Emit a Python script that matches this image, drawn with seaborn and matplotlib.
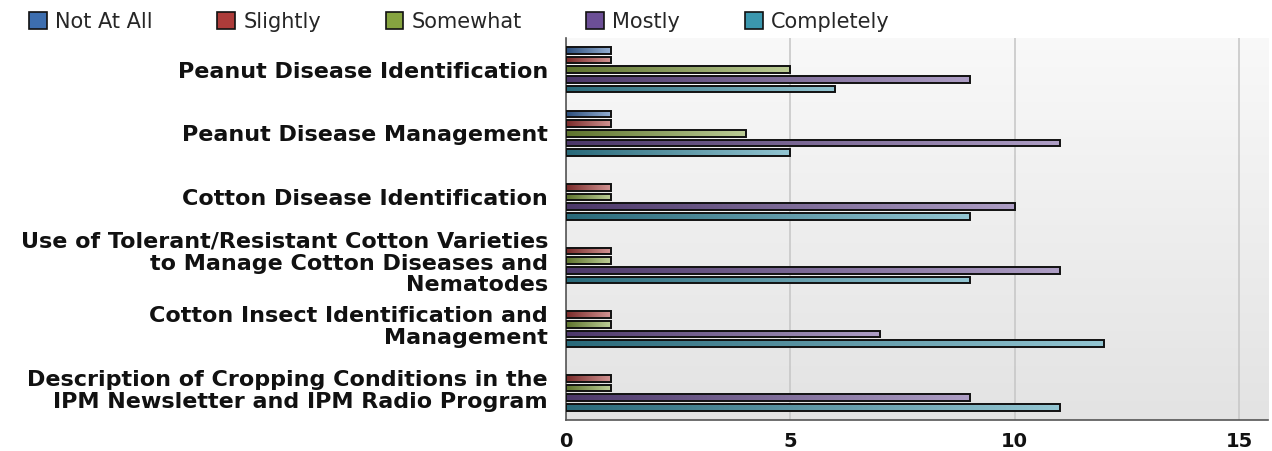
import matplotlib
matplotlib.use("Agg")
import matplotlib.pyplot as plt
import matplotlib.colors as mcolors
import numpy as np
import pandas as pd
import seaborn as sns
from matplotlib.patches import Patch

categories = [
    "Peanut Disease Identification",
    "Peanut Disease Management",
    "Cotton Disease Identification",
    "Use of Tolerant/Resistant Cotton Varieties\nto Manage Cotton Diseases and\nNematodes",
    "Cotton Insect Identification and\nManagement",
    "Description of Cropping Conditions in the\nIPM Newsletter and IPM Radio Program",
]
levels = ["Not At All", "Slightly", "Somewhat", "Mostly", "Completely"]
not_at_all = [1, 1, 0, 0, 0, 0]
slightly = [1, 1, 1, 1, 1, 1]
somewhat = [5, 4, 1, 1, 1, 1]
mostly = [9, 11, 10, 11, 7, 9]
completely = [6, 5, 9, 9, 12, 11]
colors = ["#3d6eaf", "#ad3c3a", "#86a440", "#6c4f96", "#3b97ae"]

series = [not_at_all, slightly, somewhat, mostly, completely]
rows = []
for lvl, vals in zip(levels, series):
    for cat, v in zip(categories, vals):
        rows.append({"category": cat, "level": lvl, "value": v})
df = pd.DataFrame(rows)

sns.set_style("white")
plt.rcParams["font.family"] = ["DejaVu Sans"]

fig = plt.figure(figsize=(12.72, 4.51), dpi=100)
ax = fig.add_axes([0.445, 0.069, 0.552, 0.847])
xmax = 15.65

# background vertical gradient
grad = np.linspace(0.975, 0.89, 256).reshape(-1, 1)
ax.imshow(np.dstack([grad, grad, grad]), extent=[0, xmax, 5.5, -0.5],
          aspect="auto", zorder=0, interpolation="bilinear")

sns.barplot(data=df, y="category", x="value", hue="level", hue_order=levels,
            order=categories, palette=colors, orient="h", width=0.76,
            edgecolor="#111111", linewidth=1.4, saturation=1, ax=ax,
            legend=False, zorder=3)

bar_h = 0.105
bars = [p for p in ax.patches if hasattr(p, "get_height")]
for p in bars:
    c = p.get_y() + p.get_height() / 2
    p.set_height(bar_h)
    p.set_y(c - bar_h / 2)
    if p.get_width() == 0:
        p.set_visible(False)
        continue
    # horizontal shading, dark on the left and lighter on the right
    base = np.array(mcolors.to_rgb(p.get_facecolor()))
    t = np.linspace(0, 1, 128)[None, :, None]
    dark = base * 0.7
    light = base + (1 - base) * 0.45
    img = dark + (light - dark) * t
    im = ax.imshow(img, extent=[0, p.get_width(), p.get_y() + bar_h, p.get_y()],
                   aspect="auto", zorder=3.5, interpolation="bilinear")
    im.set_clip_path(p)
    p.set_facecolor("none")
    p.set_zorder(4)

ax.set_xlim(0, xmax)
ax.set_ylim(5.5, -0.5)
ax.set_xticks([0, 5, 10, 15])
ax.xaxis.grid(True, color="#c8c8c8", linewidth=1.2, zorder=1)
ax.set_axisbelow(True)
ax.set_xlabel("")
ax.set_ylabel("")
for s in ["top", "right"]:
    ax.spines[s].set_visible(False)
for s in ["left", "bottom"]:
    ax.spines[s].set_color("#555555")
    ax.spines[s].set_linewidth(1.2)
ax.tick_params(axis="y", length=4, color="#555555", pad=9, labelsize=16)
ax.tick_params(axis="x", length=5, color="#555555", labelsize=14)
for lab in ax.get_yticklabels() + ax.get_xticklabels():
    lab.set_fontweight("bold")
    lab.set_color("#111111")
for lab in ax.get_yticklabels():
    lab.set_linespacing(1.1)

handles = [Patch(facecolor=c, edgecolor="#111111", linewidth=1.2, label=l)
           for c, l in zip(colors, levels)]
fig.legend(handles=handles, loc="upper left", bbox_to_anchor=(0.008, 1.015),
           ncol=5, frameon=False, fontsize=15, handlelength=0.85,
           handleheight=0.85, handletextpad=0.4, columnspacing=3.1)

fig.savefig("out.png", dpi=100)
